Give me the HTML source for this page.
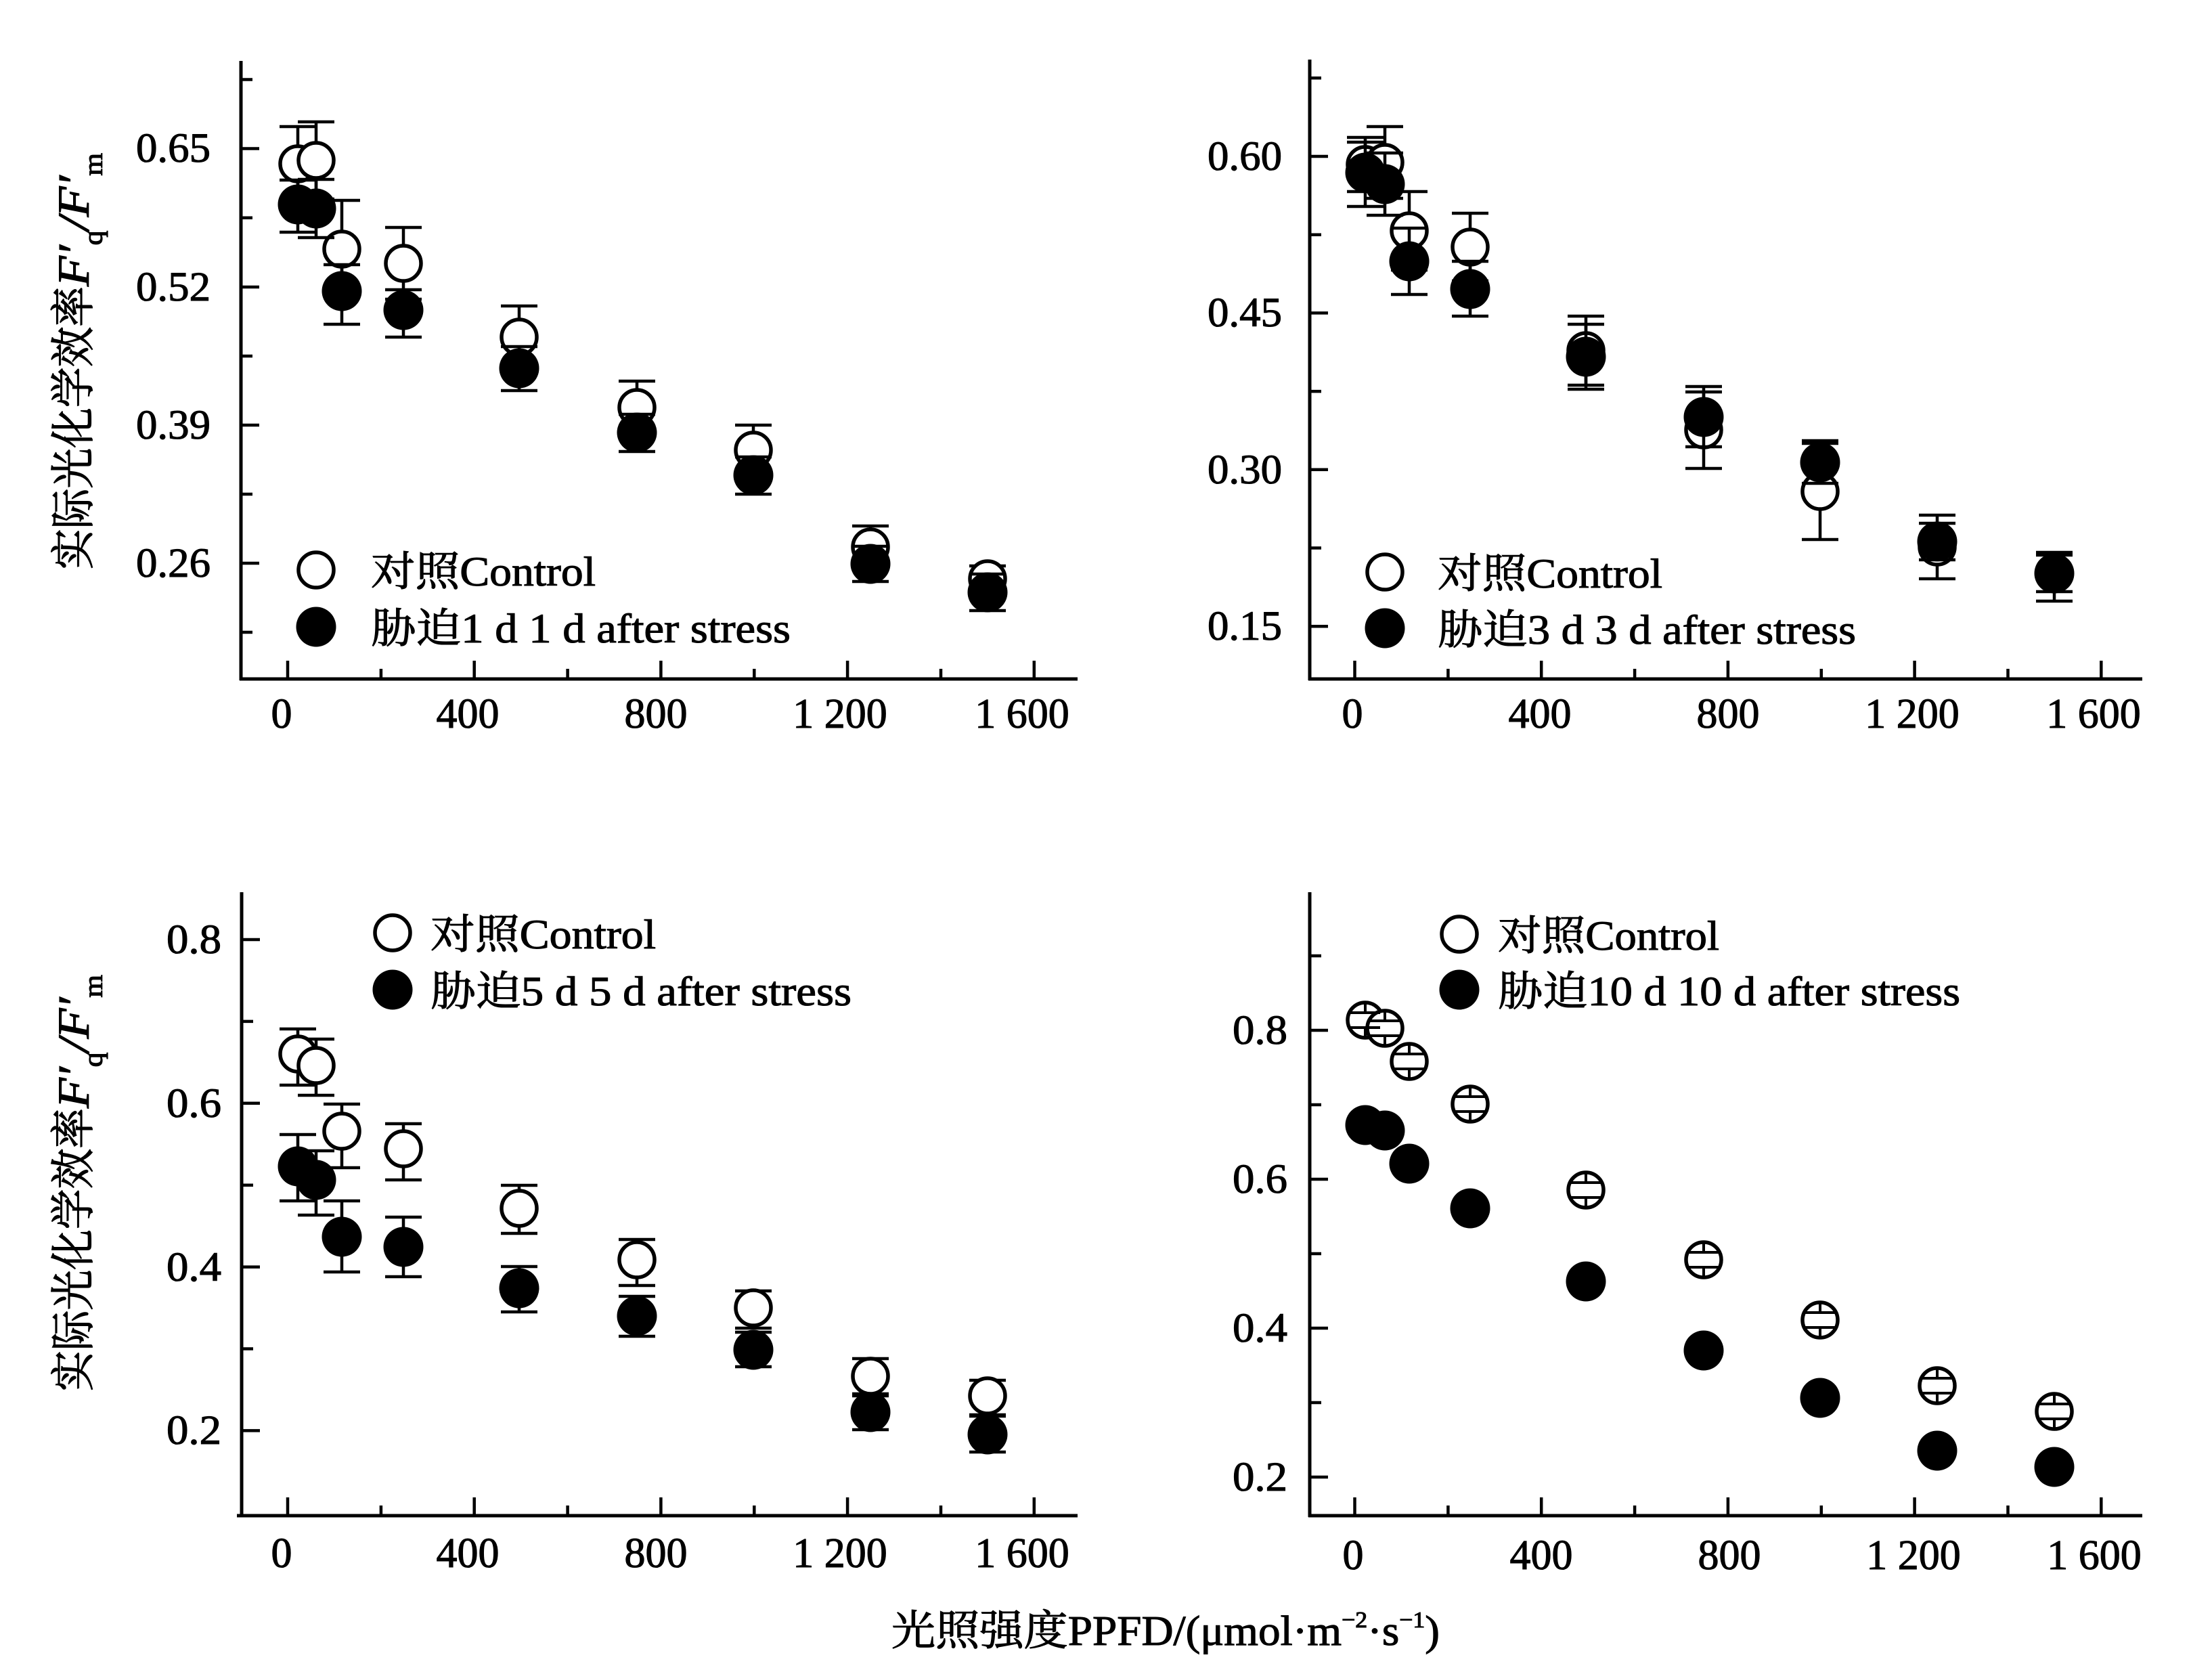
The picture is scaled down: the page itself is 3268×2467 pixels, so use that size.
<!DOCTYPE html>
<html><head><meta charset="utf-8"><style>
html,body{margin:0;padding:0;background:#fff;overflow:hidden}
svg{display:block}
text{font-family:"Liberation Serif","Noto Serif CJK SC",serif;fill:#000;stroke:#000;stroke-width:1.1px}
</style></head><body>
<svg width="3268" height="2467" viewBox="0 0 3268 2467" xmlns="http://www.w3.org/2000/svg">
<rect width="3268" height="2467" fill="#fff"/>
<g stroke="#000" stroke-width="5" fill="none">
<!-- axes -->
<path d="M356 90V1005M354 1003H1592"/>
<path d="M1935 88V1005M1933 1003H3165"/>
<path d="M357 1318V2241M350 2239H1592"/>
<path d="M1935 1318V2241M1933 2239H3165"/>
</g>
<g stroke="#000" stroke-width="4.5" fill="none">
<!-- x ticks -->
<path d="M425 1003v-27M700.7 1003v-27M976.4 1003v-27M1252.1 1003v-27M1527.8 1003v-27M562.9 1003v-15M838.6 1003v-15M1114.3 1003v-15M1390 1003v-15"/>
<path d="M2001.5 1003v-27M2277.2 1003v-27M2552.9 1003v-27M2828.6 1003v-27M3104.3 1003v-27M2139.4 1003v-15M2415.1 1003v-15M2690.8 1003v-15M2966.5 1003v-15"/>
<path d="M425 2239v-27M700.7 2239v-27M976.4 2239v-27M1252.1 2239v-27M1527.8 2239v-27M562.9 2239v-15M838.6 2239v-15M1114.3 2239v-15M1390 2239v-15"/>
<path d="M2001.5 2239v-27M2277.2 2239v-27M2552.9 2239v-27M2828.6 2239v-27M3104.3 2239v-27M2139.4 2239v-15M2415.1 2239v-15M2690.8 2239v-15M2966.5 2239v-15"/>
<!-- y ticks -->
<path d="M356 219.5h27M356 424h27M356 628h27M356 832h27M356 117.5h17M356 321.7h17M356 526h17M356 730h17M356 934h17"/>
<path d="M1935 231h27M1935 462.4h27M1935 693.8h27M1935 925.2h27M1935 115.3h17M1935 346.7h17M1935 578.1h17M1935 809.5h17"/>
<path d="M357 1388h27M357 1629.8h27M357 1871.6h27M357 2113.4h27M357 1508.9h17M357 1750.7h17M357 1992.5h17"/>
<path d="M1935 1522h27M1935 1742h27M1935 1962h27M1935 2182h27M1935 1412h17M1935 1632h17M1935 1852h17M1935 2072h17"/>
</g>

<!-- ============ TOP-LEFT ============ -->
<path stroke="#000" stroke-width="4.5" fill="none" d="
M440 187V297M413 187h54M413 297h54
M467 180V294M440 180h54M440 294h54
M505 296V440M478 296h54M478 440h54
M596 336V442M569 336h54M569 442h54
M767 452V544M740 452h54M740 544h54
M941 563V642M914 563h54M914 642h54
M1113 628V702M1086 628h54M1086 702h54
M1286 777V839M1259 777h54M1259 839h54
M1459 836V874M1432 836h54M1432 874h54"/>
<g fill="#fff" stroke="#000" stroke-width="5.5">
<circle cx="440" cy="242" r="26"/><circle cx="467" cy="237" r="26"/><circle cx="505" cy="368" r="26"/><circle cx="596" cy="389" r="26"/><circle cx="767" cy="498" r="26"/><circle cx="941" cy="602" r="26"/><circle cx="1113" cy="665" r="26"/><circle cx="1286" cy="808" r="26"/><circle cx="1459" cy="855" r="26"/>
</g>
<path stroke="#000" stroke-width="4.5" fill="none" d="
M440 266V343M413 266h54M413 343h54
M467 265V351M440 265h54M440 351h54
M505 391V479M478 391h54M478 479h54
M596 428V498M569 428h54M569 498h54
M767 512V577M740 512h54M740 577h54
M941 612V667M914 612h54M914 667h54
M1113 675V730M1086 675h54M1086 730h54
M1286 807V859M1259 807h54M1259 859h54
M1459 848V902M1432 848h54M1432 902h54"/>
<g fill="#000">
<circle cx="440" cy="302" r="29.5"/><circle cx="467" cy="308" r="29.5"/><circle cx="505" cy="430" r="29.5"/><circle cx="596" cy="458" r="29.5"/><circle cx="767" cy="544" r="29.5"/><circle cx="941" cy="639" r="29.5"/><circle cx="1113" cy="702" r="29.5"/><circle cx="1286" cy="833" r="29.5"/><circle cx="1459" cy="875" r="29.5"/>
</g>

<!-- ============ TOP-RIGHT ============ -->
<path stroke="#000" stroke-width="4.5" fill="none" d="
M2017 203V283M1990 203h54M1990 283h54
M2046 187V293M2019 187h54M2019 293h54
M2082 283V399M2055 283h54M2055 399h54
M2172 315V415M2145 315h54M2145 415h54
M2343 467V569M2316 467h54M2316 569h54
M2517 579V692M2490 579h54M2490 692h54
M2689 655V797M2662 655h54M2662 797h54
M2862 761V855M2835 761h54M2835 855h54
M3035 820V874M3008 820h54M3008 874h54"/>
<g fill="#fff" stroke="#000" stroke-width="5.5">
<circle cx="2017" cy="243" r="26"/><circle cx="2046" cy="240" r="26"/><circle cx="2082" cy="341" r="26"/><circle cx="2172" cy="365" r="26"/><circle cx="2343" cy="518" r="26"/><circle cx="2517" cy="635" r="26"/><circle cx="2689" cy="726" r="26"/><circle cx="2862" cy="808" r="26"/><circle cx="3035" cy="847" r="26"/>
</g>
<path stroke="#000" stroke-width="4.5" fill="none" d="
M2017 210V305M1990 210h54M1990 305h54
M2046 226V318M2019 226h54M2019 318h54
M2082 337V435M2055 337h54M2055 435h54
M2172 386V467M2145 386h54M2145 467h54
M2343 479V575M2316 479h54M2316 575h54
M2517 571V660M2490 571h54M2490 660h54
M2689 651V714M2662 651h54M2662 714h54
M2862 773V827M2835 773h54M2835 827h54
M3035 816V888M3008 816h54M3008 888h54"/>
<g fill="#000">
<circle cx="2017" cy="255" r="29.5"/><circle cx="2046" cy="272" r="29.5"/><circle cx="2082" cy="386" r="29.5"/><circle cx="2172" cy="427" r="29.5"/><circle cx="2343" cy="527" r="29.5"/><circle cx="2517" cy="616" r="29.5"/><circle cx="2689" cy="683" r="29.5"/><circle cx="2862" cy="800" r="29.5"/><circle cx="3035" cy="847" r="29.5"/>
</g>

<!-- ============ BOTTOM-LEFT ============ -->
<path stroke="#000" stroke-width="4.5" fill="none" d="
M440 1520V1603M413 1520h54M413 1603h54
M467 1535V1618M440 1535h54M440 1618h54
M505 1631V1725M478 1631h54M478 1725h54
M596 1660V1743M569 1660h54M569 1743h54
M767 1751V1822M740 1751h54M740 1822h54
M941 1831V1899M914 1831h54M914 1899h54
M1113 1907V1962M1086 1907h54M1086 1962h54
M1286 2007V2059M1259 2007h54M1259 2059h54
M1459 2039V2090M1432 2039h54M1432 2090h54"/>
<g fill="#fff" stroke="#000" stroke-width="5.5">
<circle cx="440" cy="1557" r="26"/><circle cx="467" cy="1574" r="26"/><circle cx="505" cy="1671" r="26"/><circle cx="596" cy="1697" r="26"/><circle cx="767" cy="1785" r="26"/><circle cx="941" cy="1861" r="26"/><circle cx="1113" cy="1932" r="26"/><circle cx="1286" cy="2033" r="26"/><circle cx="1459" cy="2062" r="26"/>
</g>
<path stroke="#000" stroke-width="4.5" fill="none" d="
M440 1676V1774M413 1676h54M413 1774h54
M467 1700V1795M440 1700h54M440 1795h54
M505 1774V1879M478 1774h54M478 1879h54
M596 1798V1886M569 1798h54M569 1886h54
M767 1871V1938M740 1871h54M740 1938h54
M941 1915V1974M914 1915h54M914 1974h54
M1113 1968V2019M1086 1968h54M1086 2019h54
M1286 2062V2112M1259 2062h54M1259 2112h54
M1459 2092V2145M1432 2092h54M1432 2145h54"/>
<g fill="#000">
<circle cx="440" cy="1723" r="29.5"/><circle cx="467" cy="1743" r="29.5"/><circle cx="505" cy="1827" r="29.5"/><circle cx="596" cy="1842" r="29.5"/><circle cx="767" cy="1903" r="29.5"/><circle cx="941" cy="1944" r="29.5"/><circle cx="1113" cy="1994" r="29.5"/><circle cx="1286" cy="2086" r="29.5"/><circle cx="1459" cy="2119" r="29.5"/>
</g>

<!-- ============ BOTTOM-RIGHT ============ -->
<g fill="#fff" stroke="#000" stroke-width="5.5">
<circle cx="2017" cy="1507" r="26"/><circle cx="2046" cy="1519" r="26"/><circle cx="2082" cy="1568" r="26"/><circle cx="2172" cy="1631" r="26"/><circle cx="2343" cy="1758" r="26"/><circle cx="2517" cy="1861" r="26"/><circle cx="2689" cy="1950" r="26"/><circle cx="2862" cy="2047" r="26"/><circle cx="3035" cy="2085" r="26"/>
</g>
<path stroke="#000" stroke-width="4" fill="none" d="
M2017 1481V1496M1995 1496h44M1995 1518h44M2017 1518V1533
M2046 1493V1508M2024 1508h44M2024 1530h44M2046 1530V1545
M2082 1542V1557M2060 1557h44M2060 1579h44M2082 1579V1594
M2172 1605V1620M2150 1620h44M2150 1642h44M2172 1642V1657
M2343 1732V1747M2321 1747h44M2321 1769h44M2343 1769V1784
M2517 1835V1850M2495 1850h44M2495 1872h44M2517 1872V1887
M2689 1924V1939M2667 1939h44M2667 1961h44M2689 1961V1976
M2862 2021V2036M2840 2036h44M2840 2058h44M2862 2058V2073
M3035 2059V2074M3013 2074h44M3013 2096h44M3035 2096V2111"/>
<g fill="#000">
<circle cx="2017" cy="1662" r="29.5"/><circle cx="2046" cy="1670" r="29.5"/><circle cx="2082" cy="1719" r="29.5"/><circle cx="2172" cy="1785" r="29.5"/><circle cx="2343" cy="1893" r="29.5"/><circle cx="2517" cy="1995" r="29.5"/><circle cx="2689" cy="2065" r="29.5"/><circle cx="2862" cy="2143" r="29.5"/><circle cx="3035" cy="2167" r="29.5"/>
</g>

<!-- ============ LEGENDS ============ -->
<g fill="#fff" stroke="#000" stroke-width="5.5">
<circle cx="467" cy="842" r="26"/><circle cx="2046" cy="845" r="26"/><circle cx="580" cy="1378" r="26"/><circle cx="2156" cy="1380" r="26"/>
</g>
<g fill="#000">
<circle cx="467" cy="926" r="29.5"/><circle cx="2046" cy="928" r="29.5"/><circle cx="580" cy="1462" r="29.5"/><circle cx="2156" cy="1462" r="29.5"/>
</g>
<g font-size="61">
<text x="548" y="865" textLength="332" lengthAdjust="spacingAndGlyphs">对照Control</text>
<text x="548" y="949" textLength="620" lengthAdjust="spacingAndGlyphs">胁迫1 d 1 d after stress</text>
<text x="2124" y="868" textLength="332" lengthAdjust="spacingAndGlyphs">对照Control</text>
<text x="2124" y="951" textLength="618" lengthAdjust="spacingAndGlyphs">胁迫3 d 3 d after stress</text>
<text x="636" y="1401" textLength="333" lengthAdjust="spacingAndGlyphs">对照Control</text>
<text x="636" y="1485" textLength="622" lengthAdjust="spacingAndGlyphs">胁迫5 d 5 d after stress</text>
<text x="2213" y="1403" textLength="327" lengthAdjust="spacingAndGlyphs">对照Control</text>
<text x="2213" y="1485" textLength="683" lengthAdjust="spacingAndGlyphs">胁迫10 d 10 d after stress</text>
</g>

<!-- ============ Y TICK LABELS ============ -->
<g font-size="61">
<text x="201" y="239" textLength="110" lengthAdjust="spacingAndGlyphs">0.65</text>
<text x="201" y="444" textLength="110" lengthAdjust="spacingAndGlyphs">0.52</text>
<text x="201" y="648" textLength="110" lengthAdjust="spacingAndGlyphs">0.39</text>
<text x="201" y="852" textLength="110" lengthAdjust="spacingAndGlyphs">0.26</text>
<text x="1784" y="251" textLength="110" lengthAdjust="spacingAndGlyphs">0.60</text>
<text x="1784" y="482" textLength="110" lengthAdjust="spacingAndGlyphs">0.45</text>
<text x="1784" y="714" textLength="110" lengthAdjust="spacingAndGlyphs">0.30</text>
<text x="1784" y="945" textLength="110" lengthAdjust="spacingAndGlyphs">0.15</text>
<text x="246" y="1408" textLength="81" lengthAdjust="spacingAndGlyphs">0.8</text>
<text x="246" y="1650" textLength="81" lengthAdjust="spacingAndGlyphs">0.6</text>
<text x="246" y="1892" textLength="81" lengthAdjust="spacingAndGlyphs">0.4</text>
<text x="246" y="2133" textLength="81" lengthAdjust="spacingAndGlyphs">0.2</text>
<text x="1821" y="1542" textLength="81" lengthAdjust="spacingAndGlyphs">0.8</text>
<text x="1821" y="1762" textLength="81" lengthAdjust="spacingAndGlyphs">0.6</text>
<text x="1821" y="1982" textLength="81" lengthAdjust="spacingAndGlyphs">0.4</text>
<text x="1821" y="2202" textLength="81" lengthAdjust="spacingAndGlyphs">0.2</text>
</g>

<!-- ============ X TICK LABELS ============ -->
<g font-size="62" text-anchor="middle">
<text x="416" y="1075">0</text><text x="691" y="1075">400</text><text x="969" y="1075">800</text><text x="1241" y="1075">1 200</text><text x="1510" y="1075">1 600</text>
<text x="1998" y="1075">0</text><text x="2275" y="1075">400</text><text x="2553" y="1075">800</text><text x="2825" y="1075">1 200</text><text x="3093" y="1075">1 600</text>
<text x="416" y="2315">0</text><text x="691" y="2315">400</text><text x="969" y="2315">800</text><text x="1241" y="2315">1 200</text><text x="1510" y="2315">1 600</text>
<text x="1999" y="2318">0</text><text x="2277" y="2318">400</text><text x="2555" y="2318">800</text><text x="2827" y="2318">1 200</text><text x="3094" y="2318">1 600</text>
</g>

<!-- ============ Y AXIS TITLES ============ -->
<g font-size="61">
<text transform="translate(131,841) scale(1.08,1) rotate(-90)" textLength="418" lengthAdjust="spacingAndGlyphs">实际光化学效率</text>
<text transform="translate(131,423) scale(1.08,1) rotate(-90)" textLength="197" lengthAdjust="spacingAndGlyphs" font-style="italic">F′<tspan font-style="normal" font-size="36" dy="18">q</tspan><tspan dy="-18">/F′</tspan><tspan font-style="normal" font-size="36" dy="18">m</tspan></text>
<text transform="translate(131,2055) scale(1.08,1) rotate(-90)" textLength="418" lengthAdjust="spacingAndGlyphs">实际光化学效率</text>
<text transform="translate(131,1637) scale(1.08,1) rotate(-90)" textLength="197" lengthAdjust="spacingAndGlyphs" font-style="italic">F′<tspan font-style="normal" font-size="36" dy="18">q</tspan><tspan dy="-18">/F′</tspan><tspan font-style="normal" font-size="36" dy="18">m</tspan></text>
</g>

<!-- ============ X AXIS TITLE ============ -->
<text x="1317" y="2430" font-size="62" textLength="810" lengthAdjust="spacingAndGlyphs">光照强度PPFD/(μmol·m<tspan font-size="34" dy="-26">−2</tspan><tspan dy="26">·s</tspan><tspan font-size="34" dy="-26">−1</tspan><tspan dy="26">)</tspan></text>
</svg>
</body></html>
